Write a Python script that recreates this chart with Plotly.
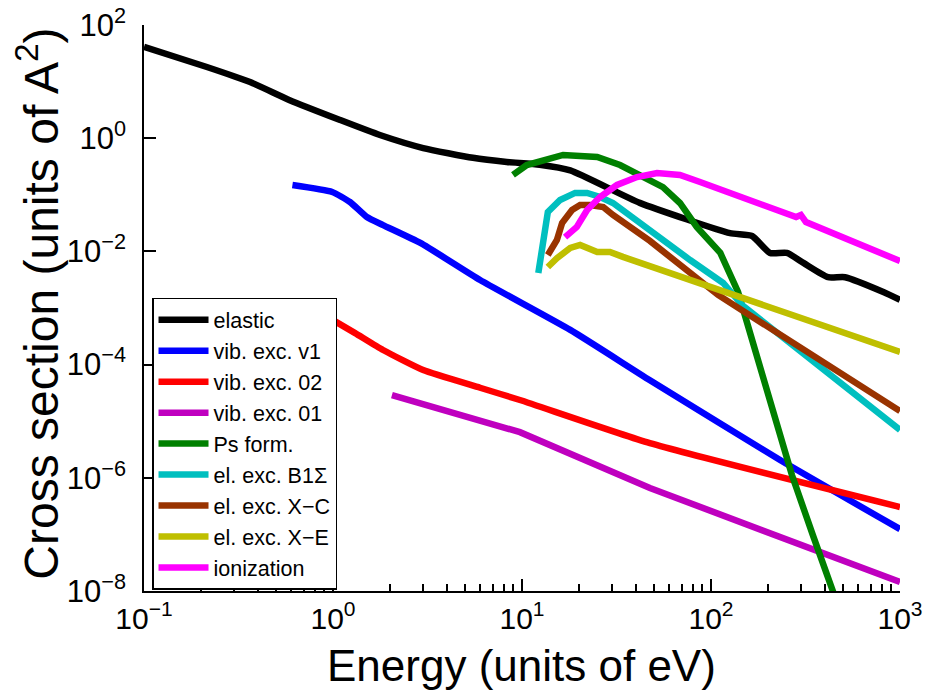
import plotly.graph_objects as go

# ---- data ----
elastic_E = [0.1, 0.215, 0.364, 0.59, 1.09, 1.77, 3.0, 5.5, 8.3, 12.4, 18, 42, 126, 165, 205, 252, 310, 416, 512, 822, 1000]
elastic_s = [41, 18.1, 9.8, 4.7, 2.1, 1.14, 0.67, 0.45, 0.38, 0.34, 0.27, 0.072, 0.021, 0.0187, 0.0094, 0.0094, 0.0062, 0.0035, 0.0035, 0.0019, 0.0014]

v1_E = [0.61, 0.99, 1.23, 1.51, 1.84, 2.9, 6.0, 18, 47.5, 232, 1000]
v1_s = [0.149, 0.112, 0.0746, 0.0405, 0.0292, 0.0141, 0.00312, 4.1e-4, 5.3e-5, 2.06e-6, 1.24e-7]

v02_E = [1.0, 1.31, 1.84, 3.0, 6.0, 9.75, 47.5, 1000]
v02_s = [6.1e-4, 3.6e-4, 1.81e-4, 8.0e-5, 3.9e-5, 2.37e-5, 4.1e-6, 3.05e-7]

v01_E = [2.05, 4.16, 9.75, 47.5, 1000]
v01_s = [2.9e-5, 1.46e-5, 6.4e-6, 6.6e-7, 1.44e-8]

ps_E = [8.96, 10.6, 16.5, 25, 33, 42, 55.7, 68.5, 84, 112, 139, 157, 203, 268, 347, 453]
ps_s = [0.224, 0.336, 0.505, 0.466, 0.336, 0.224, 0.137, 0.0716, 0.027, 0.0094, 0.00192, 4.8e-4, 2.68e-5, 1.12e-6, 9.4e-8, 7.8e-9]

b1_E = [12.2, 12.9, 13.7, 15.9, 19.1, 22.1, 25.9, 30.3, 47.5, 77.5, 116, 146, 1000]
b1_s = [0.00415, 0.0159, 0.0497, 0.081, 0.108, 0.108, 0.0914, 0.0716, 0.0229, 0.00705, 0.00277, 0.00113, 7.0e-6]

xc_E = [13.7, 15.3, 16.3, 18.4, 20.3, 22.9, 26.9, 30.3, 47.5, 109, 1000]
xc_s = [0.00863, 0.0159, 0.0318, 0.0538, 0.066, 0.066, 0.0608, 0.044, 0.0153, 0.0017, 1.51e-5]

xe_E = [13.7, 15.3, 18, 20.3, 25, 29.2, 34.2, 47.5, 1000]
xe_s = [0.0053, 0.0076, 0.0115, 0.013, 0.00975, 0.00975, 0.008, 0.0055, 1.67e-4]

ion_E = [16.9, 19.5, 22.1, 25.9, 31.8, 40.6, 51.8, 68.5, 87.5, 126, 165, 250, 282, 299, 318, 1000]
ion_s = [0.0179, 0.027, 0.0538, 0.0914, 0.149, 0.206, 0.243, 0.224, 0.168, 0.108, 0.081, 0.0497, 0.0405, 0.044, 0.033, 0.00676]

x_tickvals = [0.1, 1, 10, 100, 1000]
x_ticktext = ["10<sup>\u22121</sup>", "10<sup>0</sup>", "10<sup>1</sup>", "10<sup>2</sup>", "10<sup>3</sup>"]
y_tickvals = [1e2, 1e0, 1e-2, 1e-4, 1e-6, 1e-8]
y_ticktext = ["10<sup>2</sup>", "10<sup>0</sup>", "10<sup>\u22122</sup>", "10<sup>\u22124</sup>",
              "10<sup>\u22126</sup>", "10<sup>\u22128</sup>"]

x_title = "Energy (units of eV)"
y_title = "Cross section (units of A<sup>2</sup>)"

series = [
    ("elastic", elastic_E, elastic_s, "#000000", "spline"),
    ("vib. exc. v1", v1_E, v1_s, "#0000FF", "spline"),
    ("vib. exc. 02", v02_E, v02_s, "#FF0000", "spline"),
    ("vib. exc. 01", v01_E, v01_s, "#BF00BF", "linear"),
    ("Ps form.", ps_E, ps_s, "#008000", "linear"),
    ("el. exc. B1\u03a3", b1_E, b1_s, "#00BFBF", "linear"),
    ("el. exc. X\u2212C", xc_E, xc_s, "#993300", "linear"),
    ("el. exc. X\u2212E", xe_E, xe_s, "#BFBF00", "linear"),
    ("ionization", ion_E, ion_s, "#FF00FF", "linear"),
]

FONT = "Liberation Sans, Arial, Helvetica, sans-serif"

fig = go.Figure()
for name, xs, ys, col, shape in series:
    line = dict(color=col, width=6.5, shape=shape)
    if shape == "spline":
        line["smoothing"] = 0.5
    fig.add_trace(go.Scatter(x=xs, y=ys, mode="lines", name=name, line=line))

fig.update_layout(
    width=925, height=690,
    margin=dict(l=144, r=25, t=25, b=99, autoexpand=False),
    paper_bgcolor="white", plot_bgcolor="white",
    font=dict(family=FONT, color="black"),
    showlegend=True,
    legend=dict(x=0.0106, y=0.518, xanchor="left", yanchor="top",
                bgcolor="white", bordercolor="black", borderwidth=1.5,
                font=dict(family=FONT, size=21.5, color="black"),
                tracegroupgap=0, itemwidth=50),
    annotations=[
        dict(text=x_title, xref="paper", yref="paper", x=0.4987, y=-0.1325,
             xanchor="center", yanchor="middle", showarrow=False,
             font=dict(family=FONT, size=44, color="black")),
        dict(text=y_title, xref="paper", yref="paper", x=-0.140, y=0.508,
             xanchor="center", yanchor="middle", showarrow=False, textangle=-90,
             font=dict(family=FONT, size=48, color="black")),
    ],
)

fig.update_xaxes(
    type="log", range=[-1, 3], automargin=False,
    showline=True, linecolor="black", linewidth=1.5, mirror=False,
    showgrid=False, zeroline=False,
    ticks="inside", ticklen=12, tickwidth=1.5, tickcolor="black",
    tickvals=x_tickvals, ticktext=x_ticktext,
    tickfont=dict(family=FONT, size=30, color="black"),
    ticklabelstandoff=0,
    minor=dict(ticks="inside", ticklen=7, tickwidth=1.5, tickcolor="black",
               dtick="D1", showgrid=False),
)
fig.update_yaxes(
    type="log", range=[-8, 2], automargin=False,
    showline=True, linecolor="black", linewidth=1.5, mirror=False,
    showgrid=False, zeroline=False,
    ticks="inside", ticklen=12, tickwidth=1.5, tickcolor="black",
    tickvals=y_tickvals, ticktext=y_ticktext,
    tickfont=dict(family=FONT, size=31, color="black"),
    ticklabelstandoff=10,
)

fig.write_html("out.html")
